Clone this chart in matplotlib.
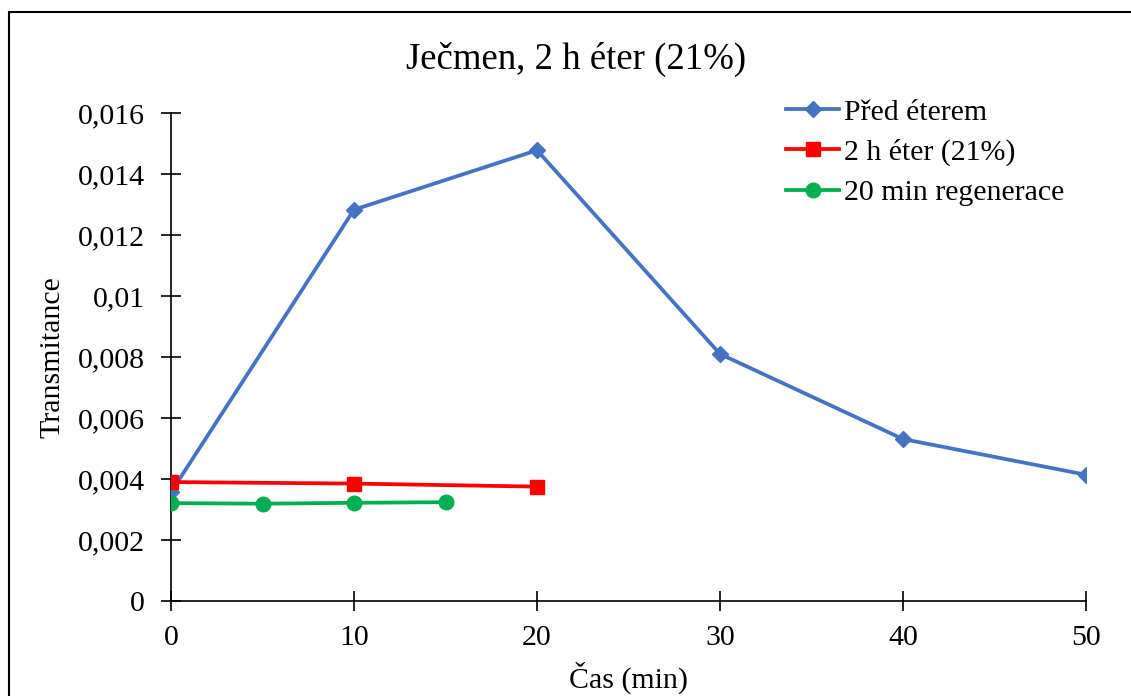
import matplotlib
matplotlib.use("Agg")
from matplotlib import pyplot as plt
from matplotlib.patches import Rectangle
from matplotlib.ticker import FuncFormatter

plt.rcParams["font.family"] = ["Liberation Serif", "DejaVu Serif"]

# casove body (min) a namerena transmitance
CAS_PRED = [0, 10, 20, 30, 40, 50]
PRED_ETEREM = [0.00357, 0.01283, 0.01478, 0.0081, 0.00531, 0.00414]

CAS_ETER = [0, 10, 20]
ETER_2H = [0.0039, 0.00385, 0.00375]

CAS_REG = [0, 5, 10, 15]
REGENERACE = [0.00321, 0.00319, 0.00322, 0.00324]

Y_TICKS = [0, 0.002, 0.004, 0.006, 0.008, 0.01, 0.012, 0.014, 0.016]
X_TICKS = [0, 10, 20, 30, 40, 50]


def carka(v, pos):
    # desetinna carka misto tecky
    if v == 0:
        return "0"
    return f"{v:.3f}".rstrip("0").replace(".", ",")


def main():
    fig = plt.figure(figsize=(11.31, 6.96), dpi=100)
    ax = fig.add_axes([0.1512, 0.1365, 0.809, 0.7011])

    ax.plot(CAS_PRED, PRED_ETEREM, color="#4472C4", lw=2.7, marker="D",
            ms=8, label="Před éterem", zorder=3)
    ax.plot(CAS_ETER, ETER_2H, color="#FF0000", lw=2.7, marker="s",
            ms=10.5, label="2 h éter (21%)", zorder=4)
    ax.plot(CAS_REG, REGENERACE, color="#00B050", lw=2.7, marker="o",
            ms=10.5, label="20 min regenerace", zorder=4)

    ax.set_xlim(0, 50)
    ax.set_ylim(0, 0.016)
    ax.set_xticks(X_TICKS)
    ax.set_yticks(Y_TICKS)
    ax.yaxis.set_major_formatter(FuncFormatter(carka))
    ax.tick_params(direction="inout", length=14, width=1.2, labelsize=21.5)
    ax.tick_params(axis="y", pad=12)
    ax.tick_params(axis="x", pad=10)
    ax.spines["top"].set_visible(False)
    ax.spines["right"].set_visible(False)
    for s in ("left", "bottom"):
        ax.spines[s].set_linewidth(1.2)
    ax.patch.set_alpha(0)

    ax.set_xlabel("Čas (min)", fontsize=21.5, labelpad=8)
    ax.set_ylabel("Transmitance", fontsize=21.5, labelpad=9)
    fig.text(0.509, 0.914, "Ječmen, 2 h éter (21%)", fontsize=26.5,
             ha="center", va="center")

    ax.legend(loc="upper right", bbox_to_anchor=(0.989, 1.054), frameon=False,
              fontsize=21.5, handlelength=1.75, handletextpad=0.17,
              labelspacing=0.44, borderaxespad=0.0)

    # ramecek grafu
    fig.patches.append(Rectangle((9 / 1131, -0.5), 2.0, 0.5 + 1 - 12 / 696,
                                 transform=fig.transFigure, fill=False,
                                 lw=1.5, ec="black"))

    fig.savefig("out.png", dpi=100)


if __name__ == "__main__":
    main()
